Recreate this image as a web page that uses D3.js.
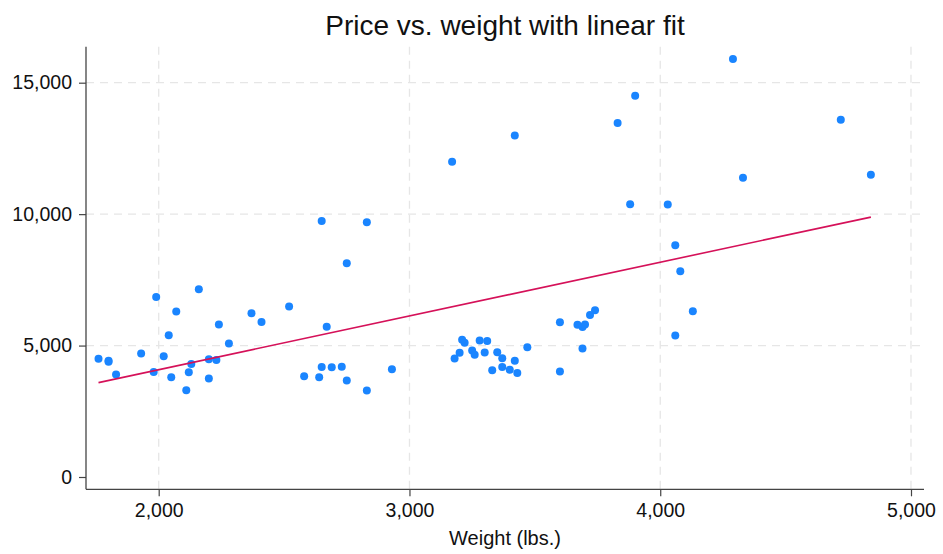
<!DOCTYPE html>
<html>
<head>
<meta charset="utf-8">
<script src="https://cdn.jsdelivr.net/npm/d3@7"></script>
<style>
  body { margin: 0; background: #fff; }
  svg { font-family: "Liberation Sans", Arial, sans-serif; }
</style>
</head>
<body>
<div class="container"></div>
<script>
// auto data: weight (lbs.) and price
const weight = [2930, 3350, 2640, 3250, 4080, 3670, 2230, 3280, 3880, 3400,
  4330, 3900, 4290, 2110, 3690, 3180, 3220, 2750, 3430, 2120,
  3600, 3600, 3740, 1800, 2650, 4840, 4720, 3830, 2580, 4060,
  3720, 3370, 4130, 2830, 4060, 3310, 3300, 3690, 3370, 2730,
  4030, 3260, 1800, 2200, 2520, 3330, 3700, 3470, 3210, 3200,
  3420, 2690, 2830, 2070, 2650, 2370, 2020, 2280, 2750, 2240,
  1760, 1980, 3420, 1830, 2050, 2410, 2200, 2670, 2160, 2040,
  1930, 1990, 3170, 2130];
const price = [4099, 4749, 3799, 4816, 7827, 5788, 4453, 5189, 10372, 4082,
  11385, 14500, 15906, 3299, 5705, 4504, 5104, 3667, 3955, 3984,
  4010, 5886, 6342, 4389, 4187, 11497, 13594, 13466, 3829, 5379,
  6165, 4516, 6303, 3291, 8814, 5172, 4733, 4890, 4181, 4195,
  10371, 4647, 4425, 4482, 6486, 4060, 5798, 4934, 5222, 4723,
  4424, 4172, 9690, 6295, 9735, 6229, 4589, 5079, 8129, 5799,
  4499, 3995, 12990, 3895, 3798, 5899, 3748, 5719, 7140, 5397,
  4697, 6850, 11995, 4296];
// fitted line endpoints
const fitWeight = [1760, 4840];
const fitPrice = [3591, 9887];
const xTicks = [2000, 3000, 4000, 5000];
const yTicks = [0, 5000, 10000, 15000];

const WIDTH = 943, HEIGHT = 554;
const PLOT = { left: 86, right: 924, top: 46.7, bottom: 489.3 };

const xScale = d3.scaleLinear().domain([2000, 5000]).range([158.7, 911]);
const yScale = d3.scaleLinear().domain([0, 15000]).range([477, 82.7]);

const svg = d3.select(".container").append("svg")
  .attr("width", WIDTH).attr("height", HEIGHT)
  .attr("viewBox", [0, 0, WIDTH, HEIGHT]);

// gridlines
const grid = svg.append("g")
  .attr("stroke", "#e6e6e6").attr("stroke-width", 1.3)
  .attr("stroke-dasharray", "8,6");
grid.selectAll("line.gx").data(xTicks).join("line")
  .attr("x1", d => xScale(d)).attr("x2", d => xScale(d))
  .attr("y1", PLOT.top).attr("y2", PLOT.bottom);
grid.selectAll("line.gy").data(yTicks.filter(d => d > 0)).join("line")
  .attr("x1", PLOT.left).attr("x2", PLOT.right)
  .attr("y1", d => yScale(d)).attr("y2", d => yScale(d));

// dots
svg.append("g").attr("fill", "#1a85ff")
  .selectAll("circle").data(weight).join("circle")
  .attr("cx", d => xScale(d))
  .attr("cy", (d, i) => yScale(price[i]))
  .attr("r", 4);

// fit line
svg.append("path")
  .datum(fitWeight.map((w, i) => [w, fitPrice[i]]))
  .attr("fill", "none").attr("stroke", "#d51159").attr("stroke-width", 1.6)
  .attr("d", d3.line().x(d => xScale(d[0])).y(d => yScale(d[1])));

// axes
const fmt = d3.format(",");
const xAxis = svg.append("g")
  .attr("transform", `translate(0,${PLOT.bottom})`)
  .call(d3.axisBottom(xScale).tickValues(xTicks).tickFormat(fmt).tickSize(7).tickPadding(7));
const yAxis = svg.append("g")
  .attr("transform", `translate(${PLOT.left},0)`)
  .call(d3.axisLeft(yScale).tickValues(yTicks).tickFormat(fmt).tickSize(7).tickPadding(7));
[xAxis, yAxis].forEach(g => {
  g.select(".domain").remove();
  g.selectAll("line").attr("stroke", "#444").attr("stroke-width", 1.2);
  g.selectAll("text").attr("fill", "#111").style("font-size", "19.5px");
});
svg.append("line").attr("stroke", "#444").attr("stroke-width", 1.3)
  .attr("x1", PLOT.left).attr("x2", PLOT.right)
  .attr("y1", PLOT.bottom).attr("y2", PLOT.bottom);
svg.append("line").attr("stroke", "#444").attr("stroke-width", 1.3)
  .attr("x1", PLOT.left).attr("x2", PLOT.left)
  .attr("y1", PLOT.top).attr("y2", PLOT.bottom);

// title and label
svg.append("text")
  .attr("x", (PLOT.left + PLOT.right) / 2).attr("y", 35)
  .attr("text-anchor", "middle").style("font-size", "28px").attr("fill", "#111")
  .text("Price vs. weight with linear fit");
svg.append("text")
  .attr("x", (PLOT.left + PLOT.right) / 2).attr("y", 545)
  .attr("text-anchor", "middle").style("font-size", "20px").attr("fill", "#111")
  .text("Weight (lbs.)");
</script>
</body>
</html>
